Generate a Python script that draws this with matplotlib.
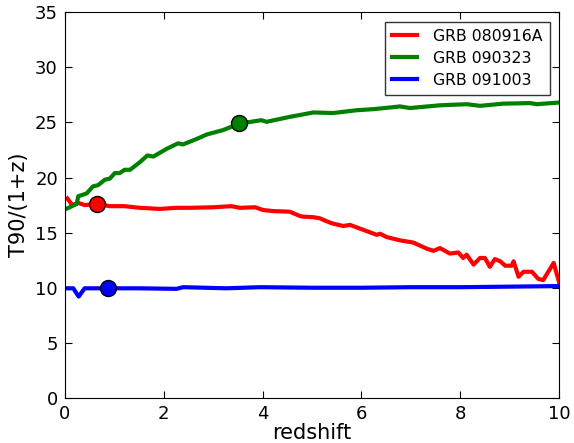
import matplotlib
matplotlib.use('Agg')
import matplotlib.pyplot as plt

# 读图估计的数值
red_z = [0.05, 0.15, 0.27, 0.40, 0.66, 0.78, 0.91, 1.20, 1.52, 1.92, 2.25, 2.53,
         3.00, 3.37, 3.54, 3.85, 4.01, 4.22, 4.55, 4.76, 4.82, 5.03, 5.16, 5.26,
         5.40, 5.63, 5.77, 6.10, 6.31, 6.38, 6.51, 6.78, 7.05, 7.32, 7.46, 7.59,
         7.79, 7.96, 8.06, 8.13, 8.27, 8.40, 8.50, 8.60, 8.70, 8.81, 8.91, 9.04,
         9.08, 9.18, 9.28, 9.45, 9.58, 9.68, 9.89, 10.0]
red_t = [18.1, 17.5, 17.7, 17.5, 17.6, 17.5, 17.4, 17.4, 17.25, 17.15, 17.25, 17.25,
         17.3, 17.4, 17.25, 17.3, 17.05, 16.95, 16.9, 16.5, 16.45, 16.4, 16.3, 16.1,
         15.85, 15.6, 15.7, 15.15, 14.8, 14.9, 14.6, 14.3, 14.1, 13.55, 13.35, 13.6,
         13.1, 13.2, 12.7, 13.0, 12.1, 12.7, 12.7, 11.9, 12.6, 12.4, 12.0, 12.0,
         12.4, 11.0, 11.45, 11.45, 10.8, 10.7, 12.25, 10.5]

green_z = [0.05, 0.24, 0.27, 0.44, 0.57, 0.67, 0.81, 0.91, 1.01, 1.11, 1.21, 1.32,
           1.52, 1.67, 1.79, 2.06, 2.29, 2.39, 2.67, 2.87, 3.20, 3.54, 3.98, 4.08,
           4.55, 5.03, 5.43, 5.90, 6.24, 6.58, 6.78, 6.98, 7.59, 8.13, 8.40, 8.87,
           9.41, 9.55, 10.0]
green_t = [17.2, 17.6, 18.3, 18.55, 19.2, 19.3, 19.8, 19.9, 20.4, 20.4, 20.7, 20.7,
           21.4, 22.0, 21.9, 22.6, 23.1, 23.0, 23.5, 23.9, 24.3, 24.9, 25.2, 25.05,
           25.5, 25.9, 25.85, 26.1, 26.2, 26.35, 26.45, 26.3, 26.55, 26.65, 26.5, 26.7,
           26.75, 26.65, 26.8]

blue_z = [0.05, 0.17, 0.28, 0.40, 0.88, 1.50, 2.26, 2.39, 3.27, 3.95, 5.0, 6.0,
          7.0, 8.0, 9.0, 10.0]
blue_t = [9.95, 9.95, 9.2, 9.95, 9.95, 9.95, 9.9, 10.05, 9.95, 10.05, 10.0, 10.0,
          10.05, 10.05, 10.1, 10.15]

labels = ['GRB 080916A', 'GRB 090323', 'GRB 091003']
colors = ['#ff0000', '#008000', '#0000ff']
# 每条曲线上的标记点
mark_z = [0.66, 3.53, 0.88]
mark_t = [17.6, 24.95, 9.95]


def main():
    fig = plt.figure(figsize=(5.74, 4.43), dpi=100)
    ax = fig.add_axes([0.113, 0.1016, 0.861, 0.871])

    series = [(red_z, red_t), (green_z, green_t), (blue_z, blue_t)]
    for (z, t), lab, c in zip(series, labels, colors):
        ax.plot(z, t, color=c, lw=3, label=lab)
    for mz, mt, c in zip(mark_z, mark_t, colors):
        ax.plot(mz, mt, 'o', color=c, ms=11.5, mec='k', mew=1, zorder=5)

    ax.set_xlim(0, 10)
    ax.set_ylim(0, 35)
    ax.set_xticks(range(0, 11, 2))
    ax.set_yticks(range(0, 36, 5))
    ax.tick_params(direction='in', top=True, right=True, length=5,
                   labelsize=13, pad=5)
    ax.set_xlabel('redshift', fontsize=15, labelpad=0)
    ax.set_ylabel('T90/(1+z)', fontsize=15, labelpad=4)

    leg = ax.legend(loc='upper right', fontsize=11.3, fancybox=False,
                    handlelength=1.6, handletextpad=1.0, borderpad=0.45,
                    labelspacing=0.45, borderaxespad=0.6)
    leg.get_frame().set_edgecolor('k')
    leg.get_frame().set_linewidth(1)

    fig.savefig('out.png', dpi=100)
    plt.close(fig)


if __name__ == '__main__':
    main()
